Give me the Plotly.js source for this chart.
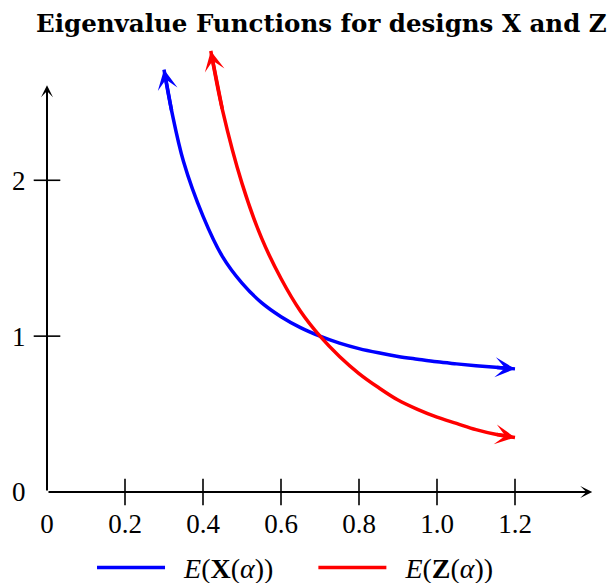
<!DOCTYPE html>
<html>
<head>
<meta charset="utf-8">
<script src="https://cdn.plot.ly/plotly-3.0.1.min.js"></script>
<style>html,body{margin:0;padding:0;background:#fff;}#chart{width:611px;height:583px;}</style>
</head>
<body>
<div id="chart"></div>
<script>
// Data
const alphaX = [0.30, 0.32, 0.35, 0.40, 0.45, 0.50, 0.55, 0.60, 0.65, 0.70, 0.75, 0.80, 0.85, 0.90, 0.95, 1.00, 1.05, 1.10, 1.15, 1.20];
const eigX   = [2.71, 2.44, 2.12, 1.77, 1.51, 1.34, 1.215, 1.125, 1.055, 1.00, 0.955, 0.92, 0.893, 0.87, 0.852, 0.835, 0.822, 0.81, 0.80, 0.79];
const alphaZ = [0.42, 0.45, 0.50, 0.55, 0.60, 0.65, 0.70, 0.75, 0.80, 0.85, 0.90, 0.95, 1.00, 1.05, 1.10, 1.15, 1.20];
const eigZ   = [2.83, 2.45, 1.98, 1.63, 1.37, 1.16, 1.00, 0.87, 0.76, 0.67, 0.59, 0.53, 0.48, 0.44, 0.40, 0.37, 0.35];
const seriesNames = ['\u00a0\u00a0<i>E</i>(<b>X</b>(<i>α</i>))\u00a0\u00a0\u00a0\u00a0\u00a0', '\u00a0\u00a0<i>E</i>(<b>Z</b>(<i>α</i>))'];
const xTickVals = [0, 0.2, 0.4, 0.6, 0.8, 1.0, 1.2];
const xTickText = ['0', '0.2', '0.4', '0.6', '0.8', '1.0', '1.2'];
const xTickMarks = [0.2, 0.4, 0.6, 0.8, 1.0, 1.2];
const yTickVals = [0, 1, 2];
const yTickText = ['0', '1', '2'];
const yTickMarks = [1, 2];
const xMax = 1.398, yMax = 2.61;

const blue = '#0000ff', red = '#ff0000';
const serif = 'Liberation Serif';

const traces = [
  {x: alphaX, y: eigX, mode: 'lines', name: seriesNames[0], line: {color: blue, width: 3.5, shape: 'spline', smoothing: 1}, cliponaxis: false},
  {x: alphaZ, y: eigZ, mode: 'lines', name: seriesNames[1], line: {color: red, width: 3.5, shape: 'spline', smoothing: 1}, cliponaxis: false},
  {x: xTickMarks, y: xTickMarks.map(() => 0), mode: 'markers', showlegend: false, hoverinfo: 'skip', cliponaxis: false,
   marker: {symbol: 'line-ns', size: 19, line: {color: '#000', width: 1.6}}},
  {x: yTickMarks.map(() => 0), y: yTickMarks, mode: 'markers', showlegend: false, hoverinfo: 'skip', cliponaxis: false,
   marker: {symbol: 'line-ew', size: 19, line: {color: '#000', width: 1.6}}}
];

function curveArrow(xs, ys, atEnd, color) {
  const n = xs.length;
  const i = atEnd ? n - 1 : 0, j = atEnd ? n - 2 : 1;
  return {x: xs[i], y: ys[i], ax: xs[j], ay: ys[j], xref: 'x', yref: 'y', axref: 'x', ayref: 'y',
    text: '', showarrow: true, arrowhead: 3, arrowsize: 0.95, arrowwidth: 3.5, arrowcolor: color, standoff: 0};
}

const annotations = [
  {x: xMax, y: 0, ax: 0, ay: 0, xref: 'x', yref: 'y', axref: 'x', ayref: 'y', text: '', showarrow: true,
   arrowhead: 3, arrowsize: 1, arrowwidth: 2, arrowcolor: '#000', standoff: 0},
  {x: 0, y: yMax, ax: 0, ay: 0, xref: 'x', yref: 'y', axref: 'x', ayref: 'y', text: '', showarrow: true,
   arrowhead: 3, arrowsize: 1, arrowwidth: 2, arrowcolor: '#000', standoff: 0},
  curveArrow(alphaX, eigX, false, blue),
  curveArrow(alphaX, eigX, true, blue),
  curveArrow(alphaZ, eigZ, false, red),
  curveArrow(alphaZ, eigZ, true, red)
];

const layout = {
  width: 611, height: 583,
  margin: {l: 47, r: 18, t: 39.6, b: 91},
  paper_bgcolor: '#fff', plot_bgcolor: '#fff',
  font: {family: serif, color: '#000', size: 25},
  title: {text: '<b>Eigenvalue Functions for designs X and Z</b>', font: {family: 'DejaVu Serif', size: 24.5, color: '#000'},
    xref: 'container', yref: 'container', x: 0.526, xanchor: 'center', y: 0.96, yanchor: 'middle'},
  xaxis: {range: [0, 1.4], showgrid: false, zeroline: false, showline: false, automargin: false,
    tickmode: 'array', tickvals: xTickVals, ticktext: xTickText, ticks: 'outside', ticklen: 8, tickcolor: 'rgba(0,0,0,0)',
    tickfont: {family: serif, size: 27, color: '#000'}, fixedrange: true},
  yaxis: {range: [0, 2.9], showgrid: false, zeroline: false, showline: false, automargin: false,
    tickmode: 'array', tickvals: yTickVals, ticktext: yTickText, ticks: 'outside', ticklen: 15, tickcolor: 'rgba(0,0,0,0)',
    tickfont: {family: serif, size: 27, color: '#000'}, fixedrange: true},
  showlegend: true,
  legend: {orientation: 'h', xref: 'container', yref: 'container', x: 0.1506, xanchor: 'left', y: 0.026, yanchor: 'middle',
    itemwidth: 68, font: {family: serif, size: 28, color: '#000'}, bgcolor: 'rgba(0,0,0,0)'},
  annotations: annotations
};

Plotly.newPlot('chart', traces, layout, {displayModeBar: false, staticPlot: true});
</script>
</body>
</html>
